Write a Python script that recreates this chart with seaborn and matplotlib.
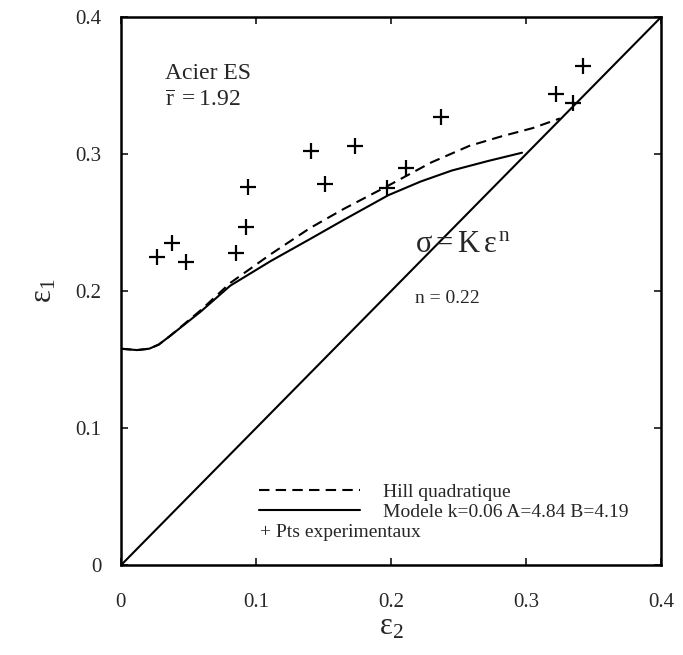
import pandas as pd
import seaborn as sns
import matplotlib.pyplot as plt
from matplotlib.lines import Line2D

# Modele k=0.06 A=4.84 B=4.19 (solid)
model_e2 = [0.0, 0.012, 0.021, 0.028, 0.036, 0.059, 0.081, 0.111, 0.140, 0.165,
            0.198, 0.222, 0.245, 0.272, 0.297]
model_e1 = [0.158, 0.157, 0.158, 0.161, 0.167, 0.185, 0.204, 0.222, 0.238, 0.252,
            0.270, 0.280, 0.288, 0.295, 0.301]

# Hill quadratique (dashed)
hill_e2 = [0.0, 0.012, 0.021, 0.028, 0.036, 0.059, 0.081, 0.111, 0.140, 0.165,
           0.198, 0.230, 0.258, 0.282, 0.305, 0.325]
hill_e1 = [0.158, 0.157, 0.158, 0.161, 0.167, 0.186, 0.206, 0.227, 0.246, 0.260,
           0.277, 0.294, 0.306, 0.313, 0.319, 0.326]

# Pts experimentaux
exp_e2 = [0.027, 0.038, 0.048, 0.085, 0.093, 0.094, 0.141, 0.151, 0.173,
          0.197, 0.211, 0.237, 0.322, 0.342, 0.335]
exp_e1 = [0.225, 0.235, 0.221, 0.228, 0.247, 0.276, 0.302, 0.278, 0.306,
          0.275, 0.290, 0.327, 0.344, 0.364, 0.337]

# diagonal e1 = e2
diag = [0.0, 0.4]

ticks = [0, 0.1, 0.2, 0.3, 0.4]
tick_labels = ["0", "0.1", "0.2", "0.3", "0.4"]

sns.set_style("ticks")
plt.rcParams["font.family"] = ["Liberation Serif", "DejaVu Serif"]
plt.rcParams["mathtext.fontset"] = "stix"

fig = plt.figure(figsize=(6.83, 6.55), dpi=100)
ax = fig.add_axes([0.177, 0.137, 0.791, 0.837])

dash = (0, (5, 3))
sns.lineplot(x=diag, y=diag, color="black", linewidth=1.5, ax=ax)
sns.lineplot(x=hill_e2, y=hill_e1, color="black", linewidth=1.5,
             linestyle=dash, sort=False, ax=ax)
sns.lineplot(x=model_e2, y=model_e1, color="black", linewidth=1.5, sort=False, ax=ax)
sns.scatterplot(x=exp_e2, y=exp_e1, marker="+", s=120, color="black",
                linewidth=1.6, ax=ax)

ax.set_xlim(0, 0.4)
ax.set_ylim(0, 0.4)
ax.set_xticks(ticks)
ax.set_xticklabels(tick_labels)
ax.set_yticks(ticks)
ax.set_yticklabels(tick_labels)
ax.tick_params(direction="in", length=5, width=1.3, labelsize=15,
               top=True, right=True)
ax.tick_params(axis="x", pad=20)
ax.tick_params(axis="y", pad=14)
for s in ax.spines.values():
    s.set_linewidth(1.8)
    s.set_color("black")

ax.set_xlabel(r"$\mathregular{ε_2}$", fontsize=22, labelpad=0)
ax.set_ylabel(r"$\mathregular{ε_1}$", fontsize=22, labelpad=12)

ax.text(0.033, 0.359, "Acier ES", fontsize=17, va="center")
ax.text(0.033, 0.339, r"$\overline{\mathregular{r}}\mathregular{\ = 1.92}$", fontsize=17, va="center")
ax.text(0.218, 0.234, r"$\mathregular{σ = K\,ε^{\,n}}$", fontsize=22, va="center")
ax.text(0.218, 0.195, "n = 0.22", fontsize=14, va="center")

handles = [Line2D([], [], color="black", linewidth=1.5, linestyle=dash),
           Line2D([], [], color="black", linewidth=1.5)]
ax.legend(handles, ["Hill quadratique", "Modele k=0.06 A=4.84 B=4.19"],
          loc="upper left", bbox_to_anchor=(0.102, 0.060), bbox_transform=ax.transData,
          frameon=False, fontsize=14, handlelength=5.2, handletextpad=1.2,
          borderpad=0, borderaxespad=0, labelspacing=0.12)
ax.text(0.103, 0.024, "+ Pts experimentaux", fontsize=14, va="center")

fig.savefig("out.png", dpi=100)
